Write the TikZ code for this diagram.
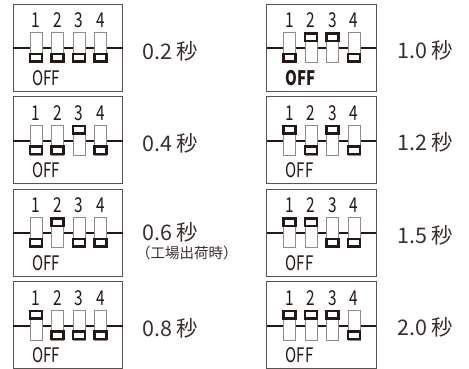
\documentclass[tikz,border=0pt]{standalone}
\usepackage{fontspec}
\setmainfont{Noto Sans CJK JP}
\newfontfamily\condfont[FakeStretch=0.75]{Noto Sans CJK JP}
\usepackage{tikz}
\usepackage{xcolor}
\definecolor{ink}{HTML}{231815}

\tikzset{
  panel/.style={draw=ink!75, line width=1pt},
  body/.style={draw=ink!50, fill=white, line width=1pt},
  knob/.style={draw=ink, line width=2.3pt},
  rail/.style={ink, line width=2pt},
  swnum/.style={anchor=base, inner sep=0, text=ink, font=\condfont\fontsize{20.5}{22}\selectfont},
  offlab/.style={anchor=base west, inner sep=0, text=ink, font=\condfont\fontsize{20}{22}\selectfont},
  timelab/.style={anchor=base west, inner sep=0, text=ink!90, font=\fontsize{21.5}{24}\selectfont}
}

\begin{document}
\begin{tikzpicture}[x=1pt, y=-1pt]

\useasboundingbox (0,0) rectangle (469,368);

% switch panels: x / y / switches 1-4 / OFF weight
\foreach \px/\py/\a/\b/\c/\d/\w [count=\i] in
  {13/4/0/0/0/0/\mdseries, 13/96.5/0/0/1/0/\mdseries,
   13/189/0/1/0/0/\mdseries, 13/281.5/1/0/0/0/\mdseries,
   266.5/4/0/1/1/0/\bfseries, 266.5/96.5/1/0/1/0/\mdseries,
   266.5/189/1/1/0/0/\mdseries, 266.5/281.5/1/1/1/0/\mdseries}
{
\draw[panel] (\px,\py) rectangle ++(109.5,87);
\draw[rail] (\px,\py+44)--++(109.5,0);
\foreach \k/\s in {1/\a,2/\b,3/\c,4/\d}
{
\draw[body] ({\px+23+21.5*(\k-1)-6},\py+28.5) rectangle ++(12,30);
\draw[knob] ({\px+23+21.5*(\k-1)-5.9},{\py+50-20.5*\s}) rectangle ++(11.8,7.5);
\node[swnum] (n\i-\k) at ({\px+23+21.5*(\k-1)},\py+23.5) {\k};
}
\node[offlab] (off\i) at (\px+19,\py+81) {\w OFF};
}

% times
\node[timelab] (t1) at (142,59) {0.2 秒};
\node[timelab] (t2) at (142,151.5) {0.4 秒};
\node[timelab] (t3) at (142,240) {0.6 秒};
\node[anchor=base west, inner sep=0, text=ink!90, font=\fontsize{14.5}{16}\selectfont] (t3b) at (136,258) {（工場出荷時）};
\node[timelab] (t4) at (142,336.5) {0.8 秒};

\node[timelab] (t5) at (397,58) {1.0 秒};
\node[timelab] (t6) at (397,150.5) {1.2 秒};
\node[timelab] (t7) at (397,243) {1.5 秒};
\node[timelab] (t8) at (397,335.5) {2.0 秒};

\end{tikzpicture}
\end{document}
